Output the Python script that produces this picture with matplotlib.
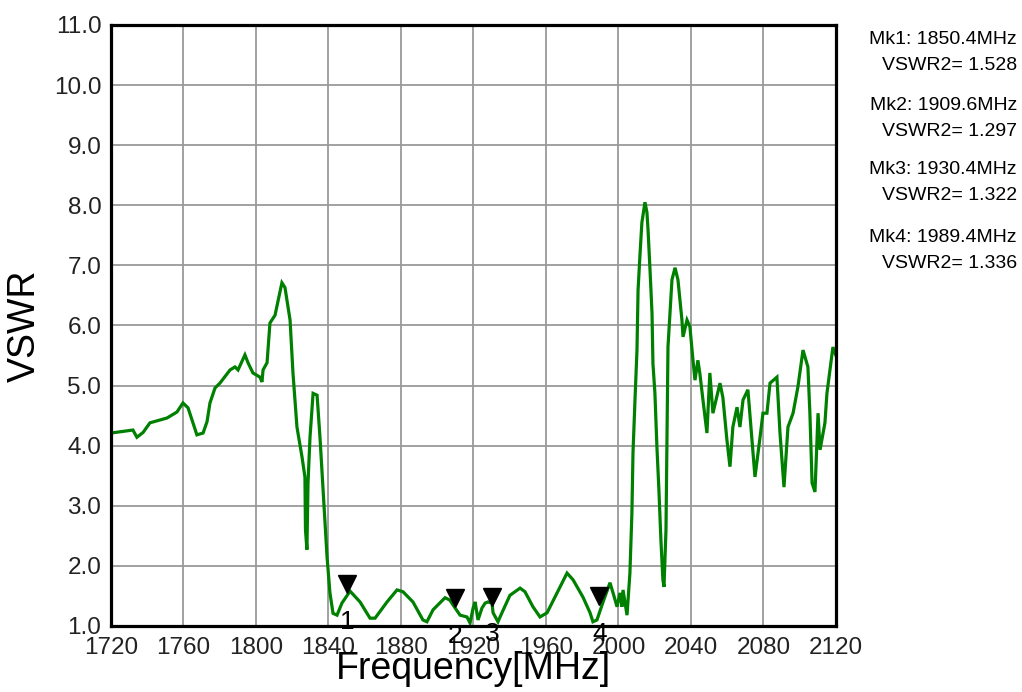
import matplotlib
matplotlib.use("Agg")
import matplotlib.pyplot as plt
import matplotlib.transforms as mtransforms

plt.rcParams['font.family'] = ['Liberation Sans', 'DejaVu Sans']

freq = [1720.0, 1732.1, 1734.3, 1737.7, 1741.5, 1750.9, 1756.4, 1759.7, 1762.5, 1765.2,
        1767.4, 1770.8, 1773.0, 1774.6, 1777.4, 1780.1, 1785.7, 1788.4, 1790.1, 1793.9,
        1795.6, 1798.3, 1802.2, 1803.3, 1803.9, 1806.1, 1807.7, 1810.5, 1814.3, 1816.0,
        1818.8, 1820.4, 1822.6, 1825.4, 1827.0, 1827.3, 1828.1, 1828.7, 1829.8, 1831.5,
        1833.7, 1835.3, 1837.0, 1839.2, 1840.8, 1842.5, 1844.7, 1847.4, 1851.9, 1857.4,
        1862.9, 1865.7, 1872.3, 1877.8, 1881.1, 1886.6, 1892.1, 1894.3, 1897.7, 1904.3,
        1907.0, 1908.7, 1912.6, 1916.4, 1918.1, 1919.8, 1920.9, 1922.5, 1924.7, 1926.4,
        1928.0, 1930.2, 1930.8, 1933.5, 1935.7, 1940.1, 1945.7, 1948.4, 1952.8, 1956.7,
        1960.6, 1966.1, 1971.6, 1974.9, 1980.4, 1984.3, 1985.9, 1988.1, 1991.5, 1995.3,
        1997.0, 1999.2, 2000.8, 2001.9, 2002.5, 2004.7, 2006.3, 2007.4, 2008.0, 2009.1,
        2010.2, 2010.8, 2011.9, 2012.9, 2014.6, 2015.7, 2016.3, 2017.4, 2018.5, 2019.0,
        2020.1, 2021.2, 2022.3, 2023.4, 2024.5, 2025.1, 2026.2, 2026.7, 2027.3, 2029.5,
        2031.2, 2032.8, 2035.0, 2035.6, 2037.8, 2039.4, 2041.1, 2042.2, 2043.8, 2044.9,
        2046.6, 2048.8, 2050.4, 2052.1, 2056.0, 2057.6, 2059.8, 2061.5, 2063.1, 2065.4,
        2067.0, 2068.7, 2071.4, 2073.6, 2075.3, 2078.1, 2079.7, 2081.9, 2083.6, 2087.4,
        2089.1, 2091.3, 2093.5, 2096.3, 2099.0, 2101.8, 2104.5, 2105.6, 2106.8, 2108.4,
        2110.1, 2111.2, 2113.9, 2115.0, 2116.7, 2118.3, 2120.0]
vswr = [4.21, 4.26, 4.14, 4.22, 4.38, 4.46, 4.56, 4.71, 4.63, 4.38,
        4.18, 4.21, 4.40, 4.71, 4.96, 5.04, 5.26, 5.31, 5.26, 5.51,
        5.38, 5.21, 5.14, 5.06, 5.26, 5.38, 6.04, 6.17, 6.71, 6.63,
        6.09, 5.21, 4.31, 3.81, 3.48, 2.60, 2.27, 3.38, 4.14, 4.87,
        4.84, 4.14, 3.26, 2.15, 1.55, 1.21, 1.18, 1.38, 1.58, 1.40,
        1.13, 1.13, 1.40, 1.60, 1.57, 1.40, 1.10, 1.07, 1.27, 1.47,
        1.43, 1.35, 1.18, 1.15, 1.05, 1.30, 1.40, 1.10, 1.30, 1.38,
        1.40, 1.38, 1.22, 1.07, 1.22, 1.51, 1.63, 1.57, 1.32, 1.15,
        1.22, 1.55, 1.88, 1.77, 1.48, 1.22, 1.07, 1.10, 1.40, 1.72,
        1.55, 1.32, 1.55, 1.32, 1.60, 1.18, 1.88, 2.88, 3.88, 4.76,
        5.59, 6.59, 7.20, 7.71, 8.05, 7.88, 7.59, 6.92, 6.20, 5.37,
        4.87, 3.98, 3.26, 2.43, 1.77, 1.65, 2.60, 3.98, 5.64, 6.76,
        6.96, 6.76, 6.09, 5.81, 6.09, 5.98, 5.42, 5.09, 5.42, 5.20,
        4.76, 4.21, 5.21, 4.54, 5.04, 4.80, 4.10, 3.65, 4.31, 4.64,
        4.31, 4.76, 4.93, 4.10, 3.48, 4.14, 4.54, 4.54, 5.04, 5.14,
        4.21, 3.31, 4.31, 4.54, 4.98, 5.59, 5.31, 4.54, 3.38, 3.23,
        4.54, 3.93, 4.38, 4.87, 5.26, 5.64, 5.50]

marker_ids = ["1", "2", "3", "4"]
marker_freq = [1850.4, 1909.6, 1930.4, 1989.4]
marker_vswr = [1.528, 1.297, 1.322, 1.336]

x_ticks = [1720, 1760, 1800, 1840, 1880, 1920, 1960, 2000, 2040, 2080, 2120]
y_ticks = [1.0, 2.0, 3.0, 4.0, 5.0, 6.0, 7.0, 8.0, 9.0, 10.0, 11.0]

fig = plt.figure(figsize=(10.22, 6.92), dpi=100)
ax = fig.add_axes([0.1086, 0.0954, 0.7094, 0.8686])

ax.plot(freq, vswr, color='#008000', lw=2.3, solid_joinstyle='miter', zorder=3)

ax.set_xlim(1720, 2120)
ax.set_ylim(1.0, 11.0)
ax.set_xticks(x_ticks)
ax.set_yticks(y_ticks)
ax.set_yticklabels([f"{v:.1f}" for v in y_ticks])
ax.tick_params(axis='both', length=0, labelsize=17.5, colors='#222222')
ax.tick_params(axis='x', pad=8)
ax.tick_params(axis='y', pad=7)
ax.grid(True, color='#9a9a9a', lw=1.3, zorder=1)
for s in ax.spines.values():
    s.set_linewidth(2.3)
    s.set_color('black')
    s.set_zorder(4)

ax.set_xlabel("Frequency[MHz]", fontsize=27, labelpad=-6, color='black')
ax.set_ylabel("VSWR", fontsize=27, labelpad=8, color='black')

tri_tr = mtransforms.offset_copy(ax.transData, fig=fig, x=0, y=10, units='dots')
ax.plot(marker_freq, marker_vswr, linestyle='none', marker='v', markersize=13,
        color='black', transform=tri_tr, zorder=5, clip_on=False)
for mid, mf, mv in zip(marker_ids, marker_freq, marker_vswr):
    ax.annotate(mid, (mf, mv), xytext=(0, -20), textcoords='offset points',
                ha='center', va='center', fontsize=19, color='black',
                annotation_clip=False, zorder=6)

panel_y = [40, 105, 170, 238]
for mid, mf, mv, py in zip(marker_ids, marker_freq, marker_vswr, panel_y):
    fig.text(1017 / 1022, 1 - py / 692, f"Mk{mid}: {mf:.1f}MHz", ha='right', va='center',
             fontsize=14, color='black')
    fig.text(1017 / 1022, 1 - (py + 26) / 692, f"VSWR2= {mv:.3f}", ha='right', va='center',
             fontsize=14, color='black')

fig.savefig("out.png", dpi=100)
